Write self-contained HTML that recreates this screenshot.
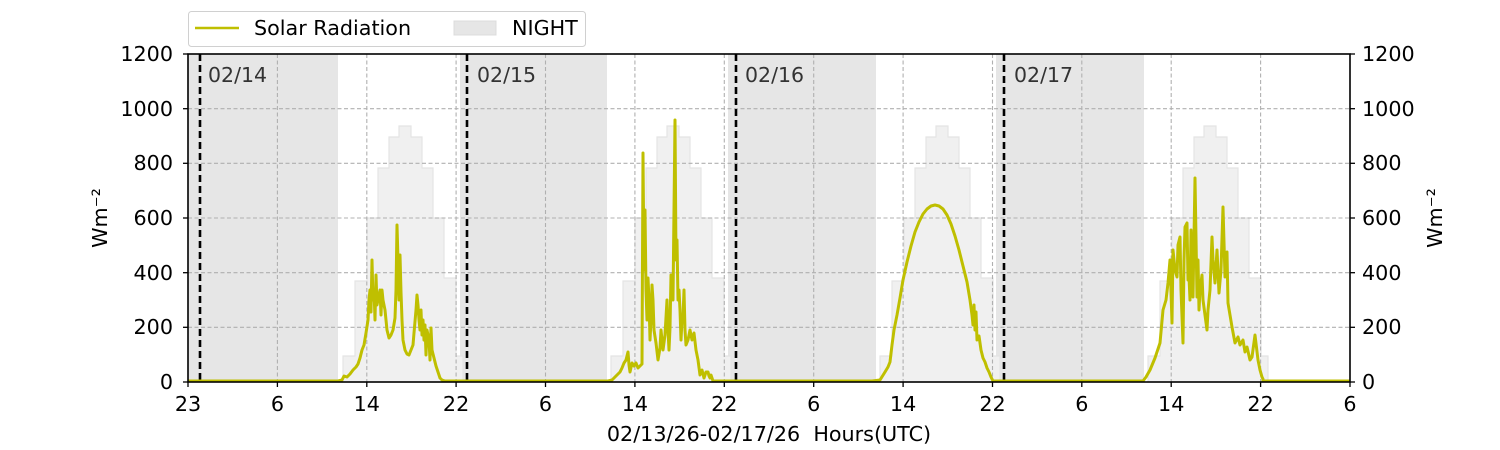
<!DOCTYPE html>
<html><head><meta charset="utf-8"><style>
body{margin:0;background:#fff}
svg{display:block;font-family:"DejaVu Sans","Liberation Sans",sans-serif}
</style></head><body>
<svg width="1500" height="450" viewBox="0 0 1500 450" xmlns="http://www.w3.org/2000/svg">
<rect width="1500" height="450" fill="#fff"/>
<g fill="#e6e6e6">
<rect x="188" y="54" width="150" height="328"/>
<rect x="460" y="54" width="147" height="328"/>
<rect x="728" y="54" width="148" height="328"/>
<rect x="996" y="54" width="148" height="328"/>
</g>
<defs>
<path id="cs" d="M0,382 L0,356 L12,356 L12,281 L24,281 L24,218 L35,218 L35,168 L46,168 L46,137 L56,137 L56,126 L68,126 L68,137 L79,137 L79,168 L90,168 L90,218 L101,218 L101,278 L113,278 L113,356 L120,356 L120,382 Z" fill="#f0f0f0" stroke="#e4e4e4" stroke-width="1.2"/>
</defs>
<use href="#cs" x="343"/>
<use href="#cs" x="611"/>
<use href="#cs" x="880"/>
<use href="#cs" x="1148"/>
<g stroke="#b0b0b0" stroke-width="1.1" stroke-dasharray="4,2.5">
<line x1="188" y1="327.3" x2="1350" y2="327.3"/>
<line x1="188" y1="272.7" x2="1350" y2="272.7"/>
<line x1="188" y1="218" x2="1350" y2="218"/>
<line x1="188" y1="163.3" x2="1350" y2="163.3"/>
<line x1="188" y1="108.7" x2="1350" y2="108.7"/>
<line x1="277.4" y1="54" x2="277.4" y2="382"/>
<line x1="366.8" y1="54" x2="366.8" y2="382"/>
<line x1="456.1" y1="54" x2="456.1" y2="382"/>
<line x1="545.5" y1="54" x2="545.5" y2="382"/>
<line x1="634.9" y1="54" x2="634.9" y2="382"/>
<line x1="724.3" y1="54" x2="724.3" y2="382"/>
<line x1="813.7" y1="54" x2="813.7" y2="382"/>
<line x1="903.1" y1="54" x2="903.1" y2="382"/>
<line x1="992.5" y1="54" x2="992.5" y2="382"/>
<line x1="1081.8" y1="54" x2="1081.8" y2="382"/>
<line x1="1171.2" y1="54" x2="1171.2" y2="382"/>
<line x1="1260.6" y1="54" x2="1260.6" y2="382"/>
</g>
<g stroke="#000" stroke-width="2.6" stroke-dasharray="7,4">
<line x1="200" y1="54" x2="200" y2="382"/>
<line x1="467" y1="54" x2="467" y2="382"/>
<line x1="736" y1="54" x2="736" y2="382"/>
<line x1="1004" y1="54" x2="1004" y2="382"/>
</g>
<g font-size="20.5" fill="#333">
<text x="208" y="82">02/14</text>
<text x="477" y="82">02/15</text>
<text x="745" y="82">02/16</text>
<text x="1014" y="82">02/17</text>
</g>
<polyline fill="none" stroke="#bfbf00" stroke-width="3" stroke-linejoin="round" points="
188,381 338,381 342,380 344,376 347,377 350,374 353,370 356,367 358,364 360,358 362,350 364,345 366,333 368,320 369,300 370,290 371,312 372,260 373,300 374,290 375,320 376,275 377,305 378,300 380,290 381,315 382,290 383,300 385,310 387,330 389,338 391,335 393,330 395,318 396,290 397,225 398,260 399,300 400,255 401,292 402,320 403,340 405,350 407,354 409,355 411,350 413,345 414,333 416,310 417,295 418,305 419,320 420,330 421,310 422,335 423,320 424,340 425,325 426,355 427,330 429,340 430,360 431,328 432,350 434,358 436,366 438,372 440,378 442,380 445,381
608,381 612,380 616,376 620,372 622,368 624,363 626,360 628,352 629,365 630,372 632,363 634,366 636,363 638,368 640,366 642,364 643,153 644,270 645,210 646,290 647,320 648,278 649,300 650,340 651,320 652,285 653,300 654,330 656,343 658,360 660,348 661,330 663,350 665,335 667,300 668,330 669,350 670,328 671,275 672,296 673,300 675,120 676,260 677,240 678,300 679,290 680,310 681,340 682,320 683,317 684,290 685,330 686,345 688,340 690,330 692,340 694,333 696,350 698,360 700,375 702,370 704,378 706,372 708,372 709,376 710,378 711,375 713,381
872,381 880,380 885,372 888,367 890,362 892,345 894,330 897,315 900,298 903,280 907,262 911,246 915,232 919,222 923,214 927,209 931,206 935,205 939,206 943,209 947,215 951,224 955,236 959,250 963,266 967,282 970,300 972,315 973,325 974,305 975,330 976,312 977,340 979,336 981,350 983,358 985,362 987,368 989,372 991,377 993,381
1138,381 1143,381 1146,377 1150,370 1155,358 1160,343 1163,310 1166,300 1168,283 1170,260 1172,323 1173,250 1175,270 1177,277 1178,245 1180,237 1181,290 1183,343 1184,260 1185,227 1187,223 1188,280 1189,277 1190,300 1191,230 1193,297 1195,178 1197,297 1198,260 1199,310 1200,290 1202,275 1203,300 1205,315 1207,330 1208,310 1210,290 1212,237 1213,260 1215,283 1217,250 1219,293 1221,270 1223,207 1225,277 1227,252 1228,303 1230,315 1232,327 1235,343 1238,337 1240,345 1243,340 1245,352 1247,347 1250,360 1252,357 1255,335 1258,360 1260,370 1262,377 1263,379
1263,381 1350,381"/>
<rect x="188" y="54" width="1162" height="328" fill="none" stroke="#000" stroke-width="1.6"/>
<g stroke="#000" stroke-width="1.3">
<line x1="183" y1="382" x2="188" y2="382"/><line x1="183" y1="327.3" x2="188" y2="327.3"/><line x1="183" y1="272.7" x2="188" y2="272.7"/><line x1="183" y1="218" x2="188" y2="218"/><line x1="183" y1="163.3" x2="188" y2="163.3"/><line x1="183" y1="108.7" x2="188" y2="108.7"/><line x1="183" y1="54" x2="188" y2="54"/>
<line x1="1350" y1="382" x2="1355" y2="382"/><line x1="1350" y1="327.3" x2="1355" y2="327.3"/><line x1="1350" y1="272.7" x2="1355" y2="272.7"/><line x1="1350" y1="218" x2="1355" y2="218"/><line x1="1350" y1="163.3" x2="1355" y2="163.3"/><line x1="1350" y1="108.7" x2="1355" y2="108.7"/><line x1="1350" y1="54" x2="1355" y2="54"/>
<line x1="188" y1="382" x2="188" y2="387"/><line x1="277.4" y1="382" x2="277.4" y2="387"/><line x1="366.8" y1="382" x2="366.8" y2="387"/><line x1="456.1" y1="382" x2="456.1" y2="387"/><line x1="545.5" y1="382" x2="545.5" y2="387"/><line x1="634.9" y1="382" x2="634.9" y2="387"/><line x1="724.3" y1="382" x2="724.3" y2="387"/><line x1="813.7" y1="382" x2="813.7" y2="387"/><line x1="903.1" y1="382" x2="903.1" y2="387"/><line x1="992.5" y1="382" x2="992.5" y2="387"/><line x1="1081.8" y1="382" x2="1081.8" y2="387"/><line x1="1171.2" y1="382" x2="1171.2" y2="387"/><line x1="1260.6" y1="382" x2="1260.6" y2="387"/><line x1="1350" y1="382" x2="1350" y2="387"/>
</g>
<g font-size="20.7" fill="#000" text-anchor="end">
<text x="173" y="389">0</text><text x="173" y="334">200</text><text x="173" y="280">400</text><text x="173" y="225">600</text><text x="173" y="170">800</text><text x="173" y="116">1000</text><text x="173" y="61">1200</text>
</g>
<g font-size="20.7" fill="#000">
<text x="1362" y="389">0</text><text x="1362" y="334">200</text><text x="1362" y="280">400</text><text x="1362" y="225">600</text><text x="1362" y="170">800</text><text x="1362" y="116">1000</text><text x="1362" y="61">1200</text>
</g>
<g font-size="20.7" fill="#000" text-anchor="middle">
<text x="188" y="411">23</text><text x="277.4" y="411">6</text><text x="366.8" y="411">14</text><text x="456.1" y="411">22</text><text x="545.5" y="411">6</text><text x="634.9" y="411">14</text><text x="724.3" y="411">22</text><text x="813.7" y="411">6</text><text x="903.1" y="411">14</text><text x="992.5" y="411">22</text><text x="1081.8" y="411">6</text><text x="1171.2" y="411">14</text><text x="1260.6" y="411">22</text><text x="1350" y="411">6</text>
<text x="769" y="441">02/13/26-02/17/26&#160; Hours(UTC)</text>
<text transform="translate(107,218) rotate(-90)">Wm⁻²</text>
<text transform="translate(1442,218) rotate(-90)">Wm⁻²</text>
</g>
<rect x="188.5" y="11.5" width="397" height="35" rx="3" fill="#fff" stroke="#d0d0d0" stroke-width="1"/>
<line x1="195" y1="28" x2="239" y2="28" stroke="#bfbf00" stroke-width="2.6"/>
<text x="254" y="35" font-size="20.7">Solar Radiation</text>
<rect x="454" y="21" width="42" height="14" fill="#e6e6e6" stroke="#dcdcdc"/>
<text x="512" y="35" font-size="20.7">NIGHT</text>
</svg>
</body></html>
